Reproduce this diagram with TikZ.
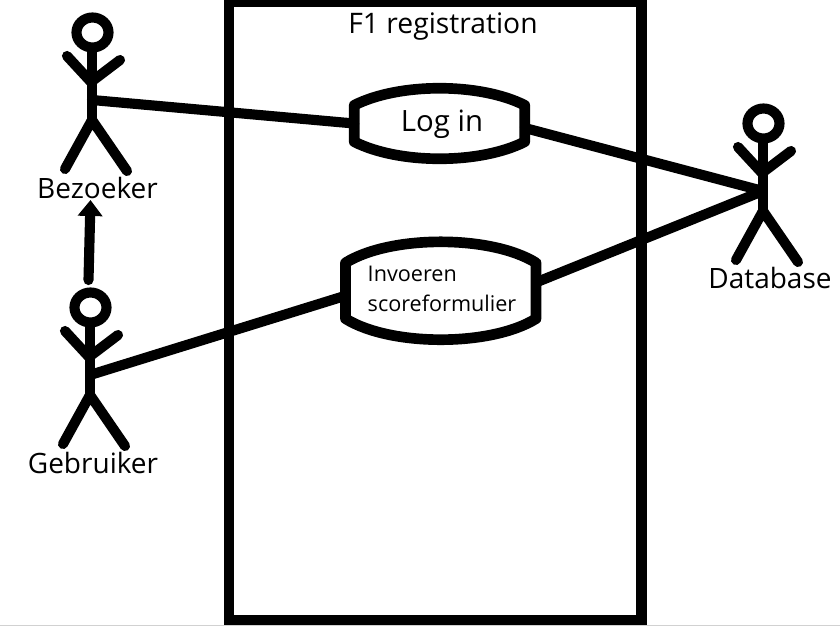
\documentclass[tikz,border=0pt]{standalone}
\usepackage{fontspec}
\setmainfont{Open Sans}
\usetikzlibrary{calc}
\usetikzlibrary{arrows.meta, positioning}

\tikzset{
	heavy/.style={line width=7.6pt, line cap=round, line join=round},
	frameline/.style={line width=7.6pt},
	caseline/.style={line width=8pt, line join=round},
	usecase/.style={inner sep=0pt, align=left, font=\fontsize{#1}{22.5pt}\selectfont},
	actorlabel/.style={font=\fontsize{21pt}{25pt}\selectfont, inner sep=0pt},
	actor/.pic={
		\draw[line width=7.6pt] (92.5,32.5) ellipse [x radius=16, y radius=15];
		\draw[heavy] (92,50) -- (92,120);
		\draw[heavy] (67,56) -- (91,82) -- (120,60);
		\draw[heavy] (65,169) -- (92,120) -- (127,171);
		\coordinate (-hand) at (92,100);
	}
}

% Outline of a use case, with flat sides and bowed ends
\newcommand{\caseoutline}[2]{
	\draw[caseline] ($(#1.south west)+(0,-#2)$) -- ($(#1.north west)+(0,#2)$)
	.. controls ($(#1.north west)+(45,-#2/3)$) and ($(#1.north east)+(-45,-#2/3)$) .. ($(#1.north east)+(0,#2)$)
	-- ($(#1.south east)+(0,-#2)$)
	.. controls ($(#1.south east)+(-45,#2/3)$) and ($(#1.south west)+(45,#2/3)$) .. cycle;
}

\begin{document}
\begin{tikzpicture}[x=0.75pt, y=-0.75pt, >=Stealth]
	\useasboundingbox (0,0) rectangle (840,626);
	
	% Bottom edge
	\draw[line width=1pt, black!18] (0,625.5) -- (840,625.5);
	
	% System boundary
	\draw[frameline] (229,2) rectangle (641.5,620);
	\node (title) [font=\fontsize{21.2pt}{25pt}\selectfont] at (443,27) {F1 registration};
	
	% Actors
	\pic (bez) at (0,0) {actor};
	\pic (geb) at (-2,275) {actor};
	\pic (dat) at (671,91) {actor};
	\node (bezlabel) [actorlabel] at (97.5,188) {Bezoeker};
	\node (geblabel) [actorlabel] at (93,463) {Gebruiker};
	\node (datlabel) [actorlabel] at (770,278) {Database};
	
	% Use cases
	\node (login) [usecase=22pt, minimum width=127.5pt, minimum height=52.5pt] at (439.5,123.5) {};
	\node (logintext) [usecase=22pt] at (442,124) {Log in};
	\node (invoer) [usecase=16.5pt, minimum width=142.5pt, minimum height=73pt] at (440.75,290.75) {};
	\node (invoertext) [usecase=16.2pt] at (442,289) {Invoeren\\scoreformulier};
	
	% Connectors
	\draw[heavy] (bez-hand) -- (login.west);
	\draw[heavy] (geb-hand) -- (invoer.183);
	\draw[heavy] (login.-3) -- (dat-hand);
	\draw[heavy] (invoer.5) -- (dat-hand);
	
	\caseoutline{login}{17}
	\caseoutline{invoer}{21}
	
	% Generalisation
	\coordinate (arrowstart) at (88.5,280);
	\coordinate (arrowend) at (90.5,200);
	\draw[-{Triangle[length=12pt, width=18pt]}, heavy] (arrowstart) -- (arrowend);
\end{tikzpicture}
\end{document}
